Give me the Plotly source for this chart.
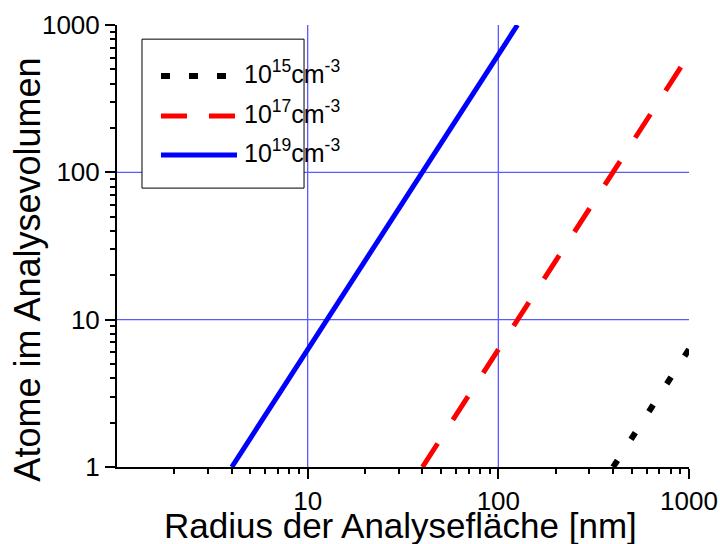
import plotly.graph_objects as go

# Atoms inside the analysis volume vs. radius of the analysed area,
# for three dopant concentrations (log-log).
r_19 = [4.0, 10, 40, 100, 126]
n_19 = [1.0, 6.3, 100, 630, 1000]

r_17 = [40, 100, 400, 1000]
n_17 = [1.0, 6.3, 100, 630]

r_15 = [400, 700, 1000]
n_15 = [1.0, 3.1, 6.3]

labels = ["10<sup>15</sup>cm<sup>-3</sup>",
          "10<sup>17</sup>cm<sup>-3</sup>",
          "10<sup>19</sup>cm<sup>-3</sup>"]

x_major = [10, 100, 1000]
y_major = [1, 10, 100, 1000]
minor_vals = [m * d for d in (1, 10, 100) for m in range(2, 10)]
grid_vals = [10, 100]

FONT = "Liberation Sans, Arial, sans-serif"
GRID = "rgb(90,90,255)"

fig = go.Figure()

# grid lines at the inner decades
for g in grid_vals:
    fig.add_trace(go.Scatter(x=[g, g], y=[1, 1000], mode="lines",
                             line=dict(color=GRID, width=1.3),
                             hoverinfo="skip", showlegend=False))
    fig.add_trace(go.Scatter(x=[1, 1000], y=[g, g], mode="lines",
                             line=dict(color=GRID, width=1.3),
                             hoverinfo="skip", showlegend=False))

fig.add_trace(go.Scatter(x=r_15, y=n_15, mode="lines", name="1e15",
                         line=dict(color="black", width=6, dash="8px,25px"),
                         showlegend=False))
fig.add_trace(go.Scatter(x=r_17, y=n_17, mode="lines", name="1e17",
                         line=dict(color="red", width=5, dash="28px,28px"),
                         showlegend=False))
fig.add_trace(go.Scatter(x=r_19, y=n_19, mode="lines", name="1e19",
                         line=dict(color="blue", width=5),
                         showlegend=False))

axis_common = dict(
    type="log", range=[0, 3], showline=True, linecolor="black", linewidth=2,
    ticks="outside", ticklen=10, tickwidth=2, tickcolor="black",
    showgrid=False, zeroline=False, mirror=False, automargin=False,
    tickfont=dict(family=FONT, size=26, color="black"),
    minor=dict(tickmode="array", tickvals=minor_vals, ticks="outside",
               ticklen=5, tickwidth=1.5, tickcolor="black", showgrid=False),
)

fig.update_layout(
    width=720, height=544,
    margin=dict(l=117, r=31, t=25, b=77),
    paper_bgcolor="white", plot_bgcolor="white",
    font=dict(family=FONT, color="black"),
    xaxis=dict(axis_common, tickmode="array", tickvals=x_major,
               ticktext=[str(v) for v in x_major]),
    yaxis=dict(axis_common, tickmode="array", tickvals=y_major,
               ticktext=[str(v) for v in y_major]),
    showlegend=False,
)

# axis titles
fig.add_annotation(text="Radius der Analysefläche [nm]", xref="paper", yref="paper",
                   x=0.495, y=-0.132, xanchor="center", yanchor="middle",
                   showarrow=False, font=dict(family=FONT, size=35, color="black"))
fig.add_annotation(text="Atome im Analysevolumen", xref="paper", yref="paper",
                   x=-0.156, y=0.446, xanchor="center", yanchor="middle",
                   textangle=-90, showarrow=False,
                   font=dict(family=FONT, size=36, color="black"))

# legend box
fig.add_shape(type="rect", xref="paper", yref="paper",
              x0=0.0437, x1=0.327, y0=0.631, y1=0.968,
              line=dict(color="black", width=1), fillcolor="white", layer="above")

legend_rows = [0.8846, 0.794, 0.7059]
legend_styles = [dict(color="black", width=6, dash="9px,19px"),
                 dict(color="red", width=5, dash="26px,22px"),
                 dict(color="blue", width=5)]
for yr, st, lab in zip(legend_rows, legend_styles, labels):
    fig.add_shape(type="line", xref="paper", yref="paper",
                  x0=0.0769, x1=0.2098, y0=yr, y1=yr, line=st, layer="above")
    fig.add_annotation(text=lab, xref="paper", yref="paper",
                       x=0.218, y=yr + 0.01, xanchor="left", yanchor="middle",
                       showarrow=False,
                       font=dict(family=FONT, size=25, color="black"))

fig.write_html("out.html")
